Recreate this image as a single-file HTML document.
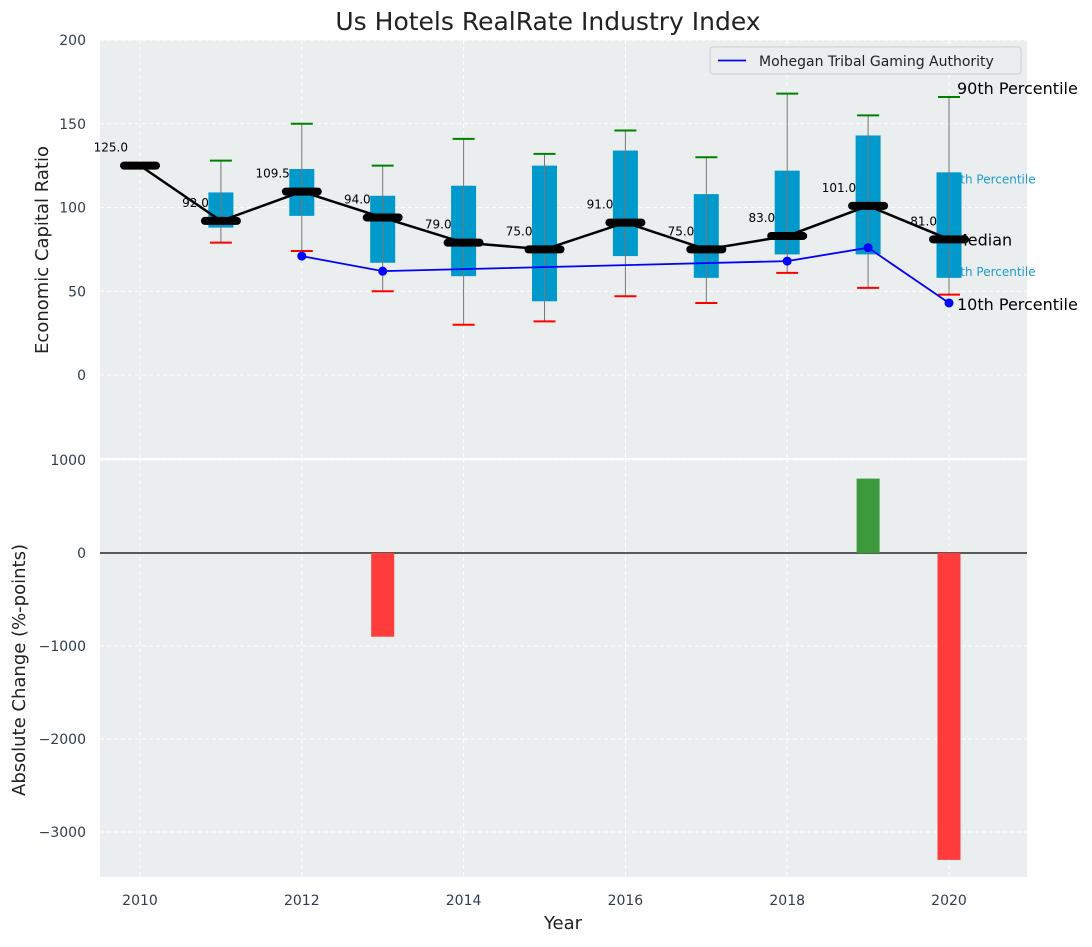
<!DOCTYPE html>
<html><head><meta charset="utf-8"><style>
body{margin:0;background:#fff;font-family:"Liberation Sans","DejaVu Sans",sans-serif;}
svg text{font-family:"DejaVu Sans","Liberation Sans",sans-serif;}
</style></head><body>
<svg id="chart" width="1092" height="942" xmlns="http://www.w3.org/2000/svg"></svg>
<script>
const years=[2010,2011,2012,2013,2014,2015,2016,2017,2018,2019,2020];
const medians=[125,92,109.5,94,79,75,91,75,83,101,81];
const q1=[null,88,95,67,59,44,71,58,72,72,58];
const q3=[null,109,123,107,113,125,134,108,122,143,121];
const p10=[null,79,74,50,30,32,47,43,61,52,48];
const p90=[null,128,150,125,141,132,146,130,168,155,166];
const companyYears=[2012,2013,2018,2019,2020];
const companyValues=[71,62,68,76,43];
const changeYears=[2013,2019,2020];
const changeValues=[-900,800,-3300];
const topTicks=[0,50,100,150,200];
const botTicks=[-3000,-2000,-1000,0,1000];
const xTicks=[2010,2012,2014,2016,2018,2020];

const NS="http://www.w3.org/2000/svg";
const svg=document.getElementById('chart');
const L=100,R=1027,T1=40,B1=459,T2=459,B2=877;
const X=v=>140+(v-2010)*80.9;
const Y1=v=>375-v*1.675;
const Y2=v=>553-v*0.093;
function el(tag,attrs,parent){const e=document.createElementNS(NS,tag);for(const k in attrs)e.setAttribute(k,attrs[k]);(parent||svg).appendChild(e);return e;}
function txt(s,attrs,parent){const e=el('text',attrs,parent);e.textContent=s;return e;}

let bg=el('rect',{x:L,y:T1,width:R-L,height:B1-T1,fill:'#ebeeee'});


bg=el('rect',{x:L,y:T2+1,width:R-L,height:B2-T2-1,fill:'#ebeeee'});



xTicks.forEach(t=>{
  el('line',{x1:X(t),x2:X(t),y1:T1,y2:B1,stroke:'#fff','stroke-dasharray':'4,3','stroke-width':1});
  el('line',{x1:X(t),x2:X(t),y1:T2,y2:B2,stroke:'#fff','stroke-dasharray':'4,3','stroke-width':1});
  let t1=txt(String(t),{x:X(t),y:905,'text-anchor':'middle','font-size':14,fill:'#2e3e50'});
  
  
});
topTicks.forEach(t=>{
  el('line',{x1:L,x2:R,y1:Y1(t),y2:Y1(t),stroke:'#fff','stroke-dasharray':'4,3'});
  let t1=txt(String(t),{x:86,y:Y1(t)+5,'text-anchor':'end','font-size':14,fill:'#2e3e50'});
  
  
});
botTicks.forEach(t=>{
  el('line',{x1:L,x2:R,y1:Y2(t),y2:Y2(t),stroke:'#fff','stroke-dasharray':'4,3'});
  let t1=txt(String(t).replace('-','\u2212'),{x:86,y:Y2(t)+5,'text-anchor':'end','font-size':14,fill:'#2e3e50'});
  
  
});
el('line',{x1:L,x2:R,y1:459,y2:459,stroke:'#fff','stroke-width':2});

const lx=X(2020);
let pl=txt('75th Percentile',{x:lx-4,y:Y1(121)+11,'font-size':12,fill:'#1f9bd0'});

pl=txt('25th Percentile',{x:lx-4,y:Y1(62)+5,'font-size':12,fill:'#1f9bd0'});

pl=txt('Median',{x:lx+5,y:Y1(81)+6,'font-size':16,fill:'#000'});


years.forEach((yr,i)=>{
  if(q1[i]==null)return;
  const x=X(yr);
  const g=el('g',{});
  
  
  el('rect',{x:x-12.5,y:Y1(q3[i]),width:25,height:Y1(q1[i])-Y1(q3[i]),fill:'#0099cc'},g);
  el('line',{x1:x,x2:x,y1:Y1(p90[i]),y2:Y1(p10[i]),stroke:'#777','stroke-width':1},g);
  el('line',{x1:x-11,x2:x+11,y1:Y1(p90[i]),y2:Y1(p90[i]),stroke:'#008000','stroke-width':2},g);
  el('line',{x1:x-11,x2:x+11,y1:Y1(p10[i]),y2:Y1(p10[i]),stroke:'#ff0000','stroke-width':2},g);
});

let ml=el('polyline',{points:years.map((y,i)=>X(y)+','+Y1(medians[i])).join(' '),fill:'none',stroke:'#000','stroke-width':2.5});


years.forEach((yr,i)=>{
  const x=X(yr),y=Y1(medians[i]);
  let m=el('line',{x1:x-16,x2:x+16,y1:y,y2:y,stroke:'#000','stroke-width':8,'stroke-linecap':'round'});
  
  
  let v=txt(medians[i].toFixed(1),{x:x-12,y:y-14,'text-anchor':'end','font-size':12,fill:'#000'});
  
  
});

let cl=el('polyline',{points:companyYears.map((y,i)=>X(y)+','+Y1(companyValues[i])).join(' '),fill:'none',stroke:'#0000ff','stroke-width':1.8});


companyYears.forEach((yr,i)=>{
  let c=el('circle',{cx:X(yr),cy:Y1(companyValues[i]),r:4.5,fill:'#0000ff'});
  
  
});

pl=txt('90th Percentile',{x:lx+8,y:Y1(166)-3,'font-size':16,fill:'#000'});

pl=txt('10th Percentile',{x:lx+8,y:Y1(43)+7,'font-size':16,fill:'#000'});


const lg=el('g',{});


el('rect',{x:710,y:47,width:311,height:27,rx:3,fill:'#ebeeee',stroke:'#ccc'},lg);
el('line',{x1:718,x2:746,y1:60.5,y2:60.5,stroke:'#0000ff','stroke-width':1.8},lg);
txt('Mohegan Tribal Gaming Authority',{x:759,y:66,'font-size':14,fill:'#222'},lg);

el('line',{x1:L,x2:R,y1:Y2(0),y2:Y2(0),stroke:'#000','stroke-width':1.2});
changeYears.forEach((yr,i)=>{
  const v=changeValues[i];
  let b=el('rect',{x:X(yr)-11.5,y:Math.min(Y2(v),Y2(0)),width:23,height:Math.abs(Y2(v)-Y2(0)),fill:v>=0?'#3c9a3c':'#ff3c3c'});
  
  
});

let t=txt('Us Hotels RealRate Industry Index',{x:548,y:30,'text-anchor':'middle','font-size':25,fill:'#222'});

t=txt('Economic Capital Ratio',{x:0,y:0,transform:'translate(48,250) rotate(-90)','text-anchor':'middle','font-size':18,fill:'#222'});

t=txt('Absolute Change (%-points)',{x:0,y:0,transform:'translate(25,670) rotate(-90)','text-anchor':'middle','font-size':18,fill:'#222'});

t=txt('Year',{x:563,y:929,'text-anchor':'middle','font-size':18,fill:'#222'});

</script>
</body></html>
